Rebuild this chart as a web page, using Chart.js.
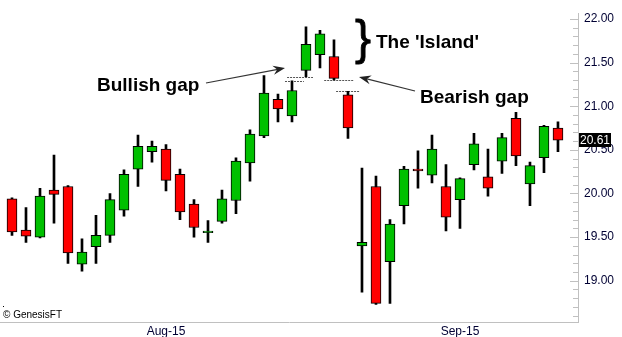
<!DOCTYPE html>
<html>
<head>
<meta charset="utf-8">
<script src="https://cdn.jsdelivr.net/npm/chart.js@4/dist/chart.umd.min.js"></script>
<style>
  html, body { margin: 0; padding: 0; background: #fff; }
  #wrap { width: 622px; height: 337px; position: relative; }
</style>
</head>
<body>
<div id="wrap"><canvas id="chart"></canvas></div>
<script>
// daily candles, 40 sessions (Aug-15 lands on #12, Sep-15 on #33)
const opens  = [19.94, 19.58, 19.50, 20.04, 20.08, 19.19, 19.39, 19.52, 19.81, 20.28,
                20.48, 20.51, 20.22, 19.88, 19.55, 19.68, 19.92, 20.35, 20.66, 21.08,
                20.89, 21.41, 21.59, 21.57, 21.13, 19.40, 20.08, 19.22, 19.86, 20.28,
                20.21, 20.08, 19.93, 20.33, 20.19, 20.37, 20.86, 20.11, 20.41, 20.75];
const highs  = [19.95, 19.84, 20.06, 20.44, 20.09, 19.48, 19.75, 20.00, 20.27, 20.67,
                20.60, 20.56, 20.28, 19.93, 19.69, 20.04, 20.41, 20.73, 21.35, 21.14,
                21.29, 21.91, 21.87, 21.76, 21.17, 20.29, 20.20, 19.70, 20.31, 20.49,
                20.67, 20.33, 20.18, 20.69, 20.51, 20.69, 20.93, 20.36, 20.78, 20.82];
const lows   = [19.52, 19.44, 19.49, 19.66, 19.20, 19.11, 19.20, 19.44, 19.74, 20.08,
                20.36, 20.03, 19.70, 19.50, 19.44, 19.66, 19.77, 20.14, 20.64, 20.82,
                20.82, 21.34, 21.44, 21.30, 20.63, 18.87, 18.73, 18.74, 19.65, 20.06,
                20.12, 19.57, 19.60, 20.27, 19.97, 20.23, 20.32, 19.86, 20.24, 20.48];
const closes = [19.56, 19.51, 19.97, 19.99, 19.32, 19.33, 19.52, 19.93, 20.22, 20.54,
                20.54, 20.15, 19.79, 19.61, 19.57, 19.94, 20.37, 20.68, 21.15, 20.97,
                21.18, 21.71, 21.83, 21.32, 20.75, 19.44, 18.74, 19.65, 20.28, 20.26,
                20.51, 19.73, 20.17, 20.57, 20.06, 20.64, 20.43, 20.32, 20.77, 20.61];

const xTickPos = [11, 32];
const xTickLabels = ['Aug-15', 'Sep-15'];
const yTicks = [19.0, 19.5, 20.0, 20.5, 21.0, 21.5, 22.0];

// dotted gap markers: price level, from/to in candle units
const gapLevels = [21.34, 21.29, 21.30, 21.17];
const gapFrom   = [19.65, 19.5, 22.3, 23.15];
const gapTo     = [21.5, 20.85, 24.4, 24.8];

const UP = '#00c000', DOWN = '#ff0000';
const FONT = '"Liberation Sans", Arial, sans-serif';

const idx = closes.map((_, i) => i);
const bodyData = idx.map(i => ({ x: i, y: [Math.min(opens[i], closes[i]), Math.max(opens[i], closes[i])] }));
const wickData = idx.map(i => ({ x: i, y: [lows[i], highs[i]] }));
const bodyColors = idx.map(i => closes[i] >= opens[i] ? UP : DOWN);

function arrow(ctx, x0, y0, x1, y1) {
  const a = Math.atan2(y1 - y0, x1 - x0);
  ctx.strokeStyle = '#333';
  ctx.fillStyle = '#222';
  ctx.lineWidth = 1.2;
  ctx.beginPath();
  ctx.moveTo(x0, y0);
  ctx.lineTo(x1 - 6 * Math.cos(a), y1 - 6 * Math.sin(a));
  ctx.stroke();
  ctx.beginPath();
  ctx.moveTo(x1, y1);
  ctx.lineTo(x1 - 12 * Math.cos(a) + 4.5 * Math.sin(a), y1 - 12 * Math.sin(a) - 4.5 * Math.cos(a));
  ctx.lineTo(x1 - 8 * Math.cos(a), y1 - 8 * Math.sin(a));
  ctx.lineTo(x1 - 12 * Math.cos(a) - 4.5 * Math.sin(a), y1 - 12 * Math.sin(a) + 4.5 * Math.cos(a));
  ctx.closePath();
  ctx.fill();
}

const extras = {
  id: 'extras',
  beforeDatasetsDraw(chart) {
    const { ctx, scales: { x, y } } = chart;
    ctx.save();
    // dotted gap lines
    ctx.strokeStyle = '#555';
    ctx.lineWidth = 1;
    ctx.setLineDash([2, 1]);
    gapLevels.forEach((lv, i) => {
      const py = Math.round(y.getPixelForValue(lv)) + 0.5;
      ctx.beginPath();
      ctx.moveTo(x.getPixelForValue(gapFrom[i]), py);
      ctx.lineTo(x.getPixelForValue(gapTo[i]), py);
      ctx.stroke();
    });
    ctx.restore();
  },
  afterDraw(chart) {
    const { ctx, chartArea: ca, scales: { y } } = chart;
    ctx.save();
    // inward ticks on the price axis, every 0.10
    ctx.strokeStyle = '#c0c0c0';
    ctx.lineWidth = 1;
    for (let k = 186; k <= 220; k++) {
      const py = Math.round(y.getPixelForValue(k / 10)) + 0.5;
      const len = k % 5 === 0 ? 8 : 5;
      ctx.beginPath();
      ctx.moveTo(ca.right - len, py);
      ctx.lineTo(ca.right, py);
      ctx.stroke();
    }

    // last price box
    const last = closes[closes.length - 1];
    const ly = y.getPixelForValue(last);
    ctx.fillStyle = '#000';
    ctx.fillRect(ca.right + 1, Math.round(ly) - 7, 32, 14);
    ctx.fillStyle = '#fff';
    ctx.font = '12px ' + FONT;
    ctx.textBaseline = 'middle';
    ctx.textAlign = 'left';
    ctx.fillText(last.toFixed(2), ca.right + 2, ly + 0.5);

    // annotations
    ctx.fillStyle = '#000';
    ctx.font = 'bold 19px ' + FONT;
    ctx.textBaseline = 'alphabetic';
    ctx.fillText('Bullish gap', 97, 91);
    ctx.fillText("The 'Island'", 376, 48);
    ctx.fillText('Bearish gap', 420, 103);
    ctx.font = '48px ' + FONT;
    ctx.textBaseline = 'middle';
    ctx.strokeStyle = '#000';
    ctx.lineWidth = 0.8;
    ctx.fillText('}', 355, 41);
    ctx.strokeText('}', 355, 41);

    arrow(ctx, 206, 83, 285, 68);
    arrow(ctx, 415, 91, 359, 77);

    ctx.fillStyle = '#000';
    ctx.font = '10px ' + FONT;
    ctx.textBaseline = 'alphabetic';
    ctx.fillText('\u00a9 GenesisFT', 3, 318);
    ctx.fillRect(3, 306, 1, 1);
    ctx.restore();
  }
};

new Chart(document.getElementById('chart'), {
  type: 'bar',
  data: {
    datasets: [
      {
        label: 'body',
        data: bodyData,
        backgroundColor: bodyColors,
        borderColor: '#000',
        borderWidth: 1,
        borderSkipped: false,
        barThickness: 10,
        grouped: false,
        order: 0,
      },
      {
        label: 'wick',
        data: wickData,
        backgroundColor: '#000',
        borderWidth: 0,
        barThickness: 2,
        grouped: false,
        order: 1,
      },
    ],
  },
  options: {
    responsive: true,
    maintainAspectRatio: false,
    animation: false,
    events: [],
    layout: { padding: 0 },
    plugins: { legend: { display: false }, tooltip: { enabled: false } },
    scales: {
      x: {
        type: 'linear',
        offset: false,
        min: -0.857,
        max: 40.43,
        afterBuildTicks: s => { s.ticks = xTickPos.map(v => ({ value: v })); },
        afterFit: s => { s.height = 15; },
        grid: { display: false, drawTicks: false, offset: false },
        border: { display: true, color: '#c0c0c0', width: 1 },
        ticks: {
          autoSkip: false,
          maxRotation: 0,
          padding: 2,
          color: '#000033',
          font: { family: FONT, size: 12 },
          callback: (v, i) => xTickLabels[i],
        },
      },
      y: {
        type: 'linear',
        position: 'right',
        min: 22 - 316 / 91,
        max: 22 + 6 / 91,
        afterBuildTicks: s => { s.ticks = yTicks.map(v => ({ value: v })); },
        afterFit: s => { s.width = 44; },
        grid: { display: false, drawTicks: false },
        border: { display: true, color: '#c0c0c0', width: 1 },
        ticks: {
          padding: 6,
          color: '#000033',
          font: { family: FONT, size: 12 },
          callback: v => v.toFixed(2),
        },
      },
    },
  },
  plugins: [extras],
});
</script>
</body>
</html>
